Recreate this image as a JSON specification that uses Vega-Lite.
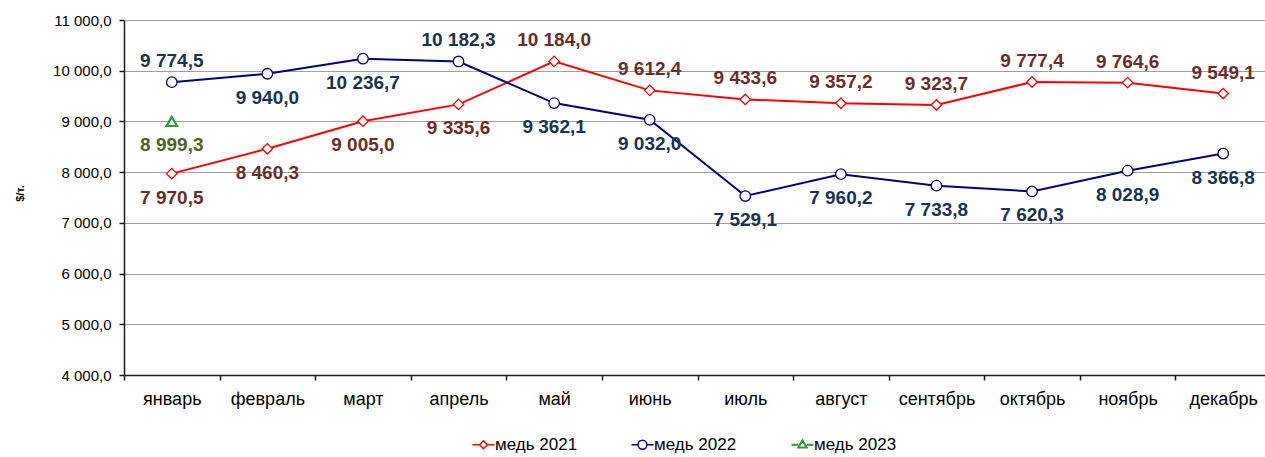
{
  "$schema": "https://vega.github.io/schema/vega-lite/v6.json",
  "autosize": {"type": "none"},
  "padding": {"left": 124, "top": 20, "right": 0, "bottom": 82},
  "width": 1147,
  "height": 355,
  "background": "white",
  "config": {
    "locale": {"number": {"decimal": ",", "thousands": " ", "grouping": [3], "currency": ["", ""]}},
    "view": {"stroke": null},
    "font": "Liberation Sans"
  },
  "data": {
    "values": [
      {"month": "январь", "series": "медь 2021", "value": 7970.5},
      {"month": "февраль", "series": "медь 2021", "value": 8460.3},
      {"month": "март", "series": "медь 2021", "value": 9005.0},
      {"month": "апрель", "series": "медь 2021", "value": 9335.6},
      {"month": "май", "series": "медь 2021", "value": 10184.0},
      {"month": "июнь", "series": "медь 2021", "value": 9612.4},
      {"month": "июль", "series": "медь 2021", "value": 9433.6},
      {"month": "август", "series": "медь 2021", "value": 9357.2},
      {"month": "сентябрь", "series": "медь 2021", "value": 9323.7},
      {"month": "октябрь", "series": "медь 2021", "value": 9777.4},
      {"month": "ноябрь", "series": "медь 2021", "value": 9764.6},
      {"month": "декабрь", "series": "медь 2021", "value": 9549.1},
      {"month": "январь", "series": "медь 2022", "value": 9774.5},
      {"month": "февраль", "series": "медь 2022", "value": 9940.0},
      {"month": "март", "series": "медь 2022", "value": 10236.7},
      {"month": "апрель", "series": "медь 2022", "value": 10182.3},
      {"month": "май", "series": "медь 2022", "value": 9362.1},
      {"month": "июнь", "series": "медь 2022", "value": 9032.0},
      {"month": "июль", "series": "медь 2022", "value": 7529.1},
      {"month": "август", "series": "медь 2022", "value": 7960.2},
      {"month": "сентябрь", "series": "медь 2022", "value": 7733.8},
      {"month": "октябрь", "series": "медь 2022", "value": 7620.3},
      {"month": "ноябрь", "series": "медь 2022", "value": 8028.9},
      {"month": "декабрь", "series": "медь 2022", "value": 8366.8},
      {"month": "январь", "series": "медь 2023", "value": 8999.3}
    ]
  },
  "encoding": {
    "x": {
      "field": "month",
      "type": "nominal",
      "sort": ["январь", "февраль", "март", "апрель", "май", "июнь", "июль", "август", "сентябрь", "октябрь", "ноябрь", "декабрь"],
      "scale": {"type": "band", "paddingInner": 0, "paddingOuter": 0, "domain": ["январь", "февраль", "март", "апрель", "май", "июнь", "июль", "август", "сентябрь", "октябрь", "ноябрь", "декабрь"]},
      "axis": {
        "title": null,
        "labelAngle": 0,
        "labelFontSize": 18,
        "labelColor": "black",
        "labelFont": "Liberation Sans",
        "labelPadding": 10,
        "tickBand": "extent",
        "tickSize": 5,
        "tickColor": "#1a1a1a",
        "tickWidth": 1.5,
        "domainColor": "#1a1a1a",
        "domainWidth": 1.5,
        "grid": false
      }
    },
    "y": {
      "field": "value",
      "type": "quantitative",
      "scale": {"domain": [4000, 11000], "nice": false, "zero": false},
      "axis": {
        "values": [4000, 5000, 6000, 7000, 8000, 9000, 10000, 11000],
        "format": ",.1f",
        "title": "$/т.",
        "titleFont": "Liberation Sans",
        "titleFontSize": 11,
        "titleFontWeight": "bold",
        "titleColor": "black",
        "titleAngle": -90,
        "titleX": -104,
        "titleY": 173,
        "titleAlign": "center",
        "titleBaseline": "middle",
        "labelFontSize": 15,
        "labelColor": "black",
        "labelFont": "Liberation Sans",
        "labelPadding": 8,
        "tickSize": 5,
        "tickColor": "#1a1a1a",
        "tickWidth": 1.5,
        "domainColor": "#1a1a1a",
        "domainWidth": 1.5,
        "grid": true,
        "gridColor": "#A0A0A0",
        "gridWidth": 1
      }
    }
  },
  "layer": [
    {
      "mark": {"type": "line", "strokeWidth": 2},
      "encoding": {
        "color": {
          "field": "series",
          "type": "nominal",
          "scale": {"domain": ["медь 2021", "медь 2022", "медь 2023"], "range": ["#FF0000", "#000080", "#339933"]},
          "legend": {
            "orient": "none",
            "legendX": 351,
            "legendY": 416,
            "direction": "horizontal",
            "title": null,
            "symbolSize": 484,
            "symbolStrokeWidth": 1.5,
            "labelFontSize": 17,
            "labelFont": "Liberation Sans",
            "labelColor": "black",
            "labelOffset": 3,
            "columnPadding": 50,
            "encode": {
              "symbols": {
                "update": {
                  "shape": {"signal": "datum.value == 'медь 2021' ? 'M-1,0H-0.36M0.36,0H1M0,-0.36L0.36,0L0,0.36L-0.36,0Z' : datum.value == 'медь 2022' ? 'M-1,0H-0.4M0.4,0H1M-0.4,0A0.4,0.4,0,1,0,0.4,0A0.4,0.4,0,1,0,-0.4,0Z' : 'M-1,0H-0.38M0.38,0H1M0,-0.42L0.38,0.24L-0.38,0.24Z'"},
                  "fill": {"value": "white"},
                  "strokeWidth": {"signal": "datum.value == 'медь 2023' ? 2 : 1.5"}
                }
              }
            }
          }
        }
      }
    },
    {
      "mark": {"type": "point", "fill": "white", "filled": false, "opacity": 1, "size": 110},
      "encoding": {
        "stroke": {
          "condition": [
            {"test": "datum.series == 'медь 2021'", "value": "#FF0000"},
            {"test": "datum.series == 'медь 2022'", "value": "#000080"}
          ],
          "value": "#339933"
        },
        "strokeWidth": {
          "condition": {"test": "datum.series == 'медь 2023'", "value": 2.2},
          "value": 1.3
        },
        "shape": {
          "condition": [
            {"test": "datum.series == 'медь 2021'", "value": "diamond"},
            {"test": "datum.series == 'медь 2022'", "value": "circle"}
          ],
          "value": "triangle-up"
        }
      }
    },
    {
      "transform": [
        {"filter": "(datum.series == 'медь 2021' && indexof(['май','июнь','июль','август','сентябрь','октябрь','ноябрь','декабрь'], datum.month) >= 0) || (datum.series == 'медь 2022' && (datum.month == 'январь' || datum.month == 'апрель'))"}
      ],
      "mark": {"type": "text", "fontSize": 19, "fontWeight": "bold", "font": "Liberation Sans", "baseline": "middle", "dy": -21},
      "encoding": {
        "text": {"field": "value", "type": "quantitative", "format": ",.1f"},
        "fill": {
          "condition": [
            {"test": "datum.series == 'медь 2021'", "value": "#6B2C2C"},
            {"test": "datum.series == 'медь 2022'", "value": "#1B3352"}
          ],
          "value": "#4F6228"
        }
      }
    },
    {
      "transform": [
        {"filter": "!((datum.series == 'медь 2021' && indexof(['май','июнь','июль','август','сентябрь','октябрь','ноябрь','декабрь'], datum.month) >= 0) || (datum.series == 'медь 2022' && (datum.month == 'январь' || datum.month == 'апрель')))"}
      ],
      "mark": {"type": "text", "fontSize": 19, "fontWeight": "bold", "font": "Liberation Sans", "baseline": "middle", "dy": 24},
      "encoding": {
        "text": {"field": "value", "type": "quantitative", "format": ",.1f"},
        "fill": {
          "condition": [
            {"test": "datum.series == 'медь 2021'", "value": "#6B2C2C"},
            {"test": "datum.series == 'медь 2022'", "value": "#1B3352"}
          ],
          "value": "#4F6228"
        }
      }
    }
  ]
}
